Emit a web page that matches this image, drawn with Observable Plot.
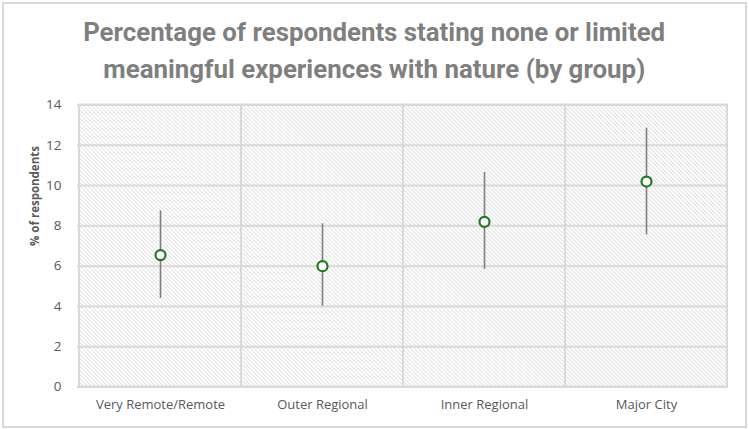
<!DOCTYPE html>
<html>
<head>
<meta charset="utf-8">
<script src="https://cdn.jsdelivr.net/npm/d3@7"></script>
<script src="https://cdn.jsdelivr.net/npm/@observablehq/plot@0.6"></script>
<style>
  html, body { margin: 0; padding: 0; background: #fff; }
  #chart { position: relative; width: 749px; height: 429px; overflow: hidden; }
  #border { position: absolute; left: 2px; top: 2px; width: 741px; height: 422px; border: 2px solid #d9d9d9; box-sizing: content-box; pointer-events: none; }
  #title { position: absolute; left: 0; top: 14px; width: 749px; text-align: center;
           font-family: Roboto, sans-serif;
           font-weight: bold; font-size: 26px; line-height: 37px; color: #7f7f7f; }
  #title span { display: inline-block; white-space: nowrap; transform-origin: center; }
  #plot { position: absolute; left: 0; top: 95px; }
</style>
</head>
<body>
<div id="chart">
  <div id="title"><span id="t1">Percentage of respondents stating none or limited</span><br><span id="t2">meaningful experiences with nature (by group)</span></div>
  <div id="plot"></div>
  <div id="border"></div>
</div>
<script>
// Remoteness groups and survey estimates with their confidence intervals (%)
const groups = ["Very Remote/Remote", "Outer Regional", "Inner Regional", "Major City"];
const estimate = [6.55, 6.0, 8.2, 10.2];
const lower = [4.4, 4.0, 5.85, 7.55];
const upper = [8.75, 8.1, 10.65, 12.85];
const yTicks = [0, 2, 4, 6, 8, 10, 12, 14];
const yLabel = "% of respondents";

const rows = groups.map((g, i) => ({group: g, value: estimate[i], low: lower[i], high: upper[i]}));
const yMax = yTicks[yTicks.length - 1];

const font = "'Open Sans', sans-serif";

const plot = Plot.plot({
  width: 749,
  height: 334,
  marginTop: 9.5,
  marginBottom: 42.5,
  marginLeft: 77,
  marginRight: 21,
  style: {fontFamily: font, color: "#595959", background: "transparent"},
  x: {type: "band", domain: groups, padding: 0, label: null},
  y: {domain: [0, yMax], ticks: yTicks, label: null},
  marks: [
    // hatched panel for each group, outlined by the light grid colour
    Plot.barY(groups, {x: d => d, y1: 0, y2: yMax, fill: "url(#hatch)", stroke: "#d9d9d9", strokeWidth: 2, inset: 0}),
    Plot.gridY(yTicks, {stroke: "#d9d9d9", strokeOpacity: 1, strokeWidth: 2}),
    Plot.axisY(yTicks, {tickSize: 0, tickPadding: 16, fontSize: 13.5}),
    Plot.axisX(groups, {tickSize: 0, tickPadding: 13, fontSize: 13}),
    Plot.text([yLabel], {frameAnchor: "left", rotate: -90, dx: -42, fontWeight: "bold", fontSize: 11.5, fill: "#595959"}),
    // confidence interval whiskers
    Plot.ruleX(rows, {x: "group", y1: "low", y2: "high", stroke: "#7f7f7f", strokeWidth: 1.6}),
    // point estimates
    Plot.dot(rows, {x: "group", y: "value", r: 5, fill: "white", stroke: "#1e7b1e", strokeWidth: 2.2})
  ]
});

// diagonal hatch used as the panel fill
const ns = "http://www.w3.org/2000/svg";
const defs = document.createElementNS(ns, "defs");
const pat = document.createElementNS(ns, "pattern");
pat.setAttribute("id", "hatch");
pat.setAttribute("patternUnits", "userSpaceOnUse");
pat.setAttribute("width", "2.83");
pat.setAttribute("height", "2.83");
pat.setAttribute("patternTransform", "rotate(-45)");
const bg = document.createElementNS(ns, "rect");
bg.setAttribute("width", "2.83");
bg.setAttribute("height", "2.83");
bg.setAttribute("fill", "#ffffff");
const ln = document.createElementNS(ns, "rect");
ln.setAttribute("x", "0");
ln.setAttribute("width", "0.9");
ln.setAttribute("height", "2.83");
ln.setAttribute("fill", "#dedede");
pat.appendChild(bg);
pat.appendChild(ln);
defs.appendChild(pat);
plot.insertBefore(defs, plot.firstChild);

document.getElementById("plot").appendChild(plot);

// squeeze each title line to the width of the condensed heading face
const titleWidths = {t1: 582, t2: 542};
for (const id in titleWidths) {
  const el = document.getElementById(id);
  const w = el.getBoundingClientRect().width;
  el.style.transform = `scaleX(${titleWidths[id] / w})`;
}
</script>
</body>
</html>
